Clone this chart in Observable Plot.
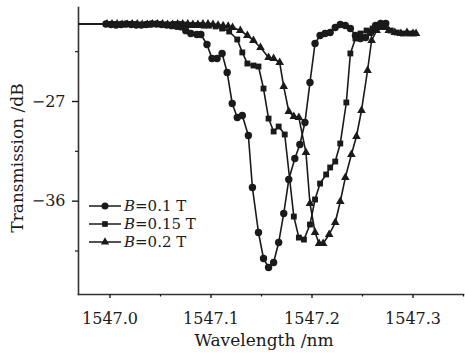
<!DOCTYPE html>
<html>
<head>
<meta charset="utf-8">
<script src="https://cdn.jsdelivr.net/npm/d3@7"></script>
<script src="https://cdn.jsdelivr.net/npm/@observablehq/plot@0.6"></script>
<style>
  html, body { margin: 0; padding: 0; background: #fff; }
</style>
</head>
<body>
<script>
// ---- Data ----
// B = 0.1 T (circles)
const wl01 = [1546.950, 1546.996, 1547.001, 1547.006, 1547.011, 1547.016, 1547.021, 1547.026, 1547.031, 1547.036,
  1547.041, 1547.046, 1547.051, 1547.056, 1547.061, 1547.066, 1547.070, 1547.075, 1547.080, 1547.086,
  1547.090, 1547.096, 1547.101, 1547.106, 1547.111, 1547.116, 1547.121, 1547.126, 1547.131, 1547.137,
  1547.141, 1547.147, 1547.152, 1547.157, 1547.162, 1547.167, 1547.172, 1547.177, 1547.183, 1547.188,
  1547.193, 1547.198, 1547.203, 1547.208, 1547.213, 1547.218, 1547.223, 1547.228, 1547.233, 1547.238,
  1547.243, 1547.248, 1547.253, 1547.258, 1547.263, 1547.268, 1547.273];
const tr01 = [-20.0, -20.0, -20.05, -20.1, -20.05, -20.0, -20.05, -20.1, -20.1, -20.05,
  -20.0, -20.0, -20.05, -20.1, -20.15, -20.2, -20.25, -20.6, -20.86, -20.95,
  -20.95, -21.85, -23.12, -23.12, -22.66, -24.38, -27.18, -28.45, -28.26, -30.07,
  -34.77, -38.83, -41.18, -41.99, -41.54, -39.74, -37.12, -34.05, -32.15, -30.88,
  -28.90, -25.28, -21.76, -21.04, -20.86, -20.77, -20.31, -20.04, -20.13, -20.41,
  -21.04, -21.31, -21.22, -20.77, -20.13, -19.95, -19.95];

// B = 0.15 T (squares)
const wl015 = [1546.950, 1546.998, 1547.003, 1547.008, 1547.013, 1547.018, 1547.023, 1547.028, 1547.033, 1547.038,
  1547.043, 1547.048, 1547.053, 1547.058, 1547.063, 1547.068, 1547.073, 1547.078, 1547.083, 1547.088,
  1547.093, 1547.098, 1547.1045, 1547.111, 1547.118, 1547.126, 1547.131, 1547.136, 1547.142, 1547.147,
  1547.152, 1547.157, 1547.162, 1547.167, 1547.173, 1547.182, 1547.187, 1547.192, 1547.198, 1547.203,
  1547.208, 1547.214, 1547.218, 1547.223, 1547.228, 1547.234, 1547.238, 1547.243, 1547.248, 1547.254,
  1547.260, 1547.266, 1547.272, 1547.278, 1547.284, 1547.290, 1547.296, 1547.301];
const tr015 = [-20.0, -20.0, -20.0, -20.05, -20.05, -20.0, -20.0, -20.05, -20.1, -20.05,
  -20.0, -20.0, -20.05, -20.05, -20.0, -20.0, -20.05, -20.1, -20.1, -20.1,
  -20.15, -20.15, -20.22, -20.41, -20.68, -21.40, -22.57, -23.57, -23.75, -23.84,
  -25.83, -28.54, -29.71, -29.26, -29.98, -37.39, -39.29, -39.47, -38.11, -35.85,
  -34.41, -33.59, -32.96, -32.42, -30.79, -27.09, -22.66, -21.31, -20.86, -20.59,
  -20.41, -20.22, -20.22, -20.59, -20.77, -20.86, -20.86, -20.86];

// B = 0.2 T (triangles)
const wl02 = [1546.950, 1546.997, 1547.002, 1547.007, 1547.012, 1547.017, 1547.022, 1547.027, 1547.032, 1547.037,
  1547.042, 1547.047, 1547.052, 1547.057, 1547.062, 1547.067, 1547.072, 1547.077, 1547.082, 1547.087,
  1547.092, 1547.097, 1547.102, 1547.107, 1547.112, 1547.117, 1547.1213, 1547.129, 1547.136, 1547.142,
  1547.149, 1547.157, 1547.162, 1547.168, 1547.172, 1547.177, 1547.182, 1547.187, 1547.194, 1547.198,
  1547.203, 1547.207, 1547.211, 1547.217, 1547.223, 1547.228, 1547.233, 1547.239, 1547.244, 1547.249,
  1547.255, 1547.259, 1547.264, 1547.270, 1547.276, 1547.282, 1547.288, 1547.294, 1547.300, 1547.303];
const tr02 = [-20.0, -20.0, -20.0, -20.0, -20.05, -20.05, -20.0, -20.0, -20.05, -20.05,
  -20.0, -20.0, -20.0, -20.05, -20.05, -20.0, -20.0, -20.0, -20.05, -20.05,
  -20.0, -20.0, -20.05, -20.1, -20.15, -20.2, -20.31, -20.59, -21.04, -21.49,
  -22.12, -23.03, -23.12, -23.48, -25.65, -27.90, -28.36, -28.45, -31.61, -36.21,
  -38.83, -39.83, -39.83, -39.01, -37.93, -36.03, -33.87, -31.79, -30.16, -27.81,
  -24.20, -21.49, -20.59, -20.31, -20.59, -20.77, -20.86, -20.77, -20.86, -20.86];

const seriesNames = ["=0.1 T", "=0.15 T", "=0.2 T"];
const seriesSymbols = ["circle", "square", "triangle"];

// Axis ticks
const xTicks = [1547.0, 1547.1, 1547.2, 1547.3];
const xMinor = [1547.05, 1547.15, 1547.25, 1547.35];
const yTicks = [-27, -36];
const yMinor = [-22.5, -31.5, -40.5];
const xDomain = [1546.9688, 1547.35];
const yDomain = [-44.43, -18.51];
const xLabel = "Wavelength /nm";
const yLabel = "Transmission /dB";

const toRows = (w, t) => w.map((d, i) => ({x: d, y: t[i]}));
const s01 = toRows(wl01, tr01);
const s015 = toRows(wl015, tr015);
const s02 = toRows(wl02, tr02);

const FONT = "DejaVu Serif";
const ink = "#1a1a1a";

const lineOpts = {x: "x", y: "y", stroke: ink, strokeWidth: 1.6, clip: true};

const chart = Plot.plot({
  width: 465,
  height: 353,
  marginLeft: 78,
  marginRight: 2,
  marginTop: 7,
  marginBottom: 59,
  style: {fontFamily: FONT, fontSize: "16px", color: ink, background: "#fff", overflow: "visible"},
  x: {domain: xDomain},
  y: {domain: yDomain},
  marks: [
    Plot.frame({anchor: "left", stroke: "#333", strokeWidth: 1.6}),
    Plot.frame({anchor: "bottom", stroke: "#333", strokeWidth: 1.6}),
    Plot.axisX(xTicks, {tickSize: 4, tickPadding: 14, tickFormat: d => d.toFixed(1), label: null, strokeWidth: 1.4}),
    Plot.axisX(xMinor, {tickSize: 2.5, tickFormat: () => "", label: null, strokeWidth: 1.2}),
    Plot.axisY(yTicks, {tickSize: 6, tickPadding: 7, tickFormat: d => "\u2212" + Math.abs(d), label: null, strokeWidth: 1.4}),
    Plot.axisY(yMinor, {tickSize: 3, tickFormat: () => "", label: null, strokeWidth: 1.2}),
    Plot.line(s01, lineOpts),
    Plot.line(s015, lineOpts),
    Plot.line(s02, lineOpts),
    Plot.dot(s01, {x: "x", y: "y", symbol: "circle", fill: ink, stroke: "none", r: 3.7, clip: true}),
    Plot.dot(s015, {x: "x", y: "y", symbol: "square", fill: ink, stroke: "none", r: 3.3, clip: true}),
    Plot.dot(s02, {x: "x", y: "y", symbol: "triangle", fill: ink, stroke: "none", r: 3.2, clip: true}),
    Plot.text([xLabel], {frameAnchor: "bottom", dx: -7, dy: 46, lineAnchor: "middle", textAnchor: "middle", fontSize: 17, fill: ink}),
    Plot.text([yLabel], {frameAnchor: "left", dx: -61, dy: 7, rotate: -90, lineAnchor: "middle", textAnchor: "middle", fontSize: 17, fill: ink})
  ]
});

document.body.appendChild(chart);

// Legend (inside the plot area, lower left)
const svg = d3.select(chart);
const lg = svg.append("g").attr("font-family", FONT).attr("font-size", 15)
  .attr("fill", ink).attr("text-anchor", "start");
const rowsY = [206, 224, 242];
const symSizes = [Math.PI * 3.5 * 3.5, Math.PI * 3.2 * 3.2, Math.PI * 3.1 * 3.1];
const symTypes = {circle: d3.symbolCircle, square: d3.symbolSquare, triangle: d3.symbolTriangle};
seriesNames.forEach((name, i) => {
  const y = rowsY[i];
  lg.append("line").attr("x1", 89).attr("x2", 121).attr("y1", y).attr("y2", y)
    .attr("stroke", ink).attr("stroke-width", 1.5);
  lg.append("path").attr("d", d3.symbol(symTypes[seriesSymbols[i]], symSizes[i])())
    .attr("transform", `translate(105,${y})`).attr("fill", ink);
  const t = lg.append("text").attr("x", 124).attr("y", y).attr("dy", "0.36em").attr("text-anchor", "start");
  t.append("tspan").attr("font-style", "italic").text("B");
  t.append("tspan").text(name);
});
</script>
</body>
</html>
